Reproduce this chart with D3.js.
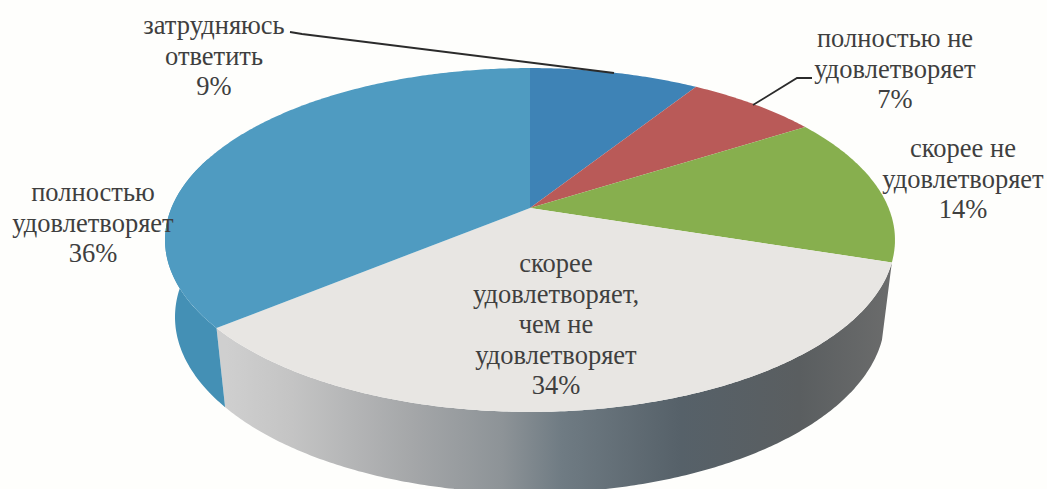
<!DOCTYPE html>
<html>
<head>
<meta charset="utf-8">
<script src="https://cdn.jsdelivr.net/npm/d3@7"></script>
<style>
html, body { margin: 0; padding: 0; background: #fefefc; overflow: hidden; }
text { font-family: "Liberation Serif", serif; font-size: 26.5px; fill: #3f3f3f; text-anchor: middle; }
</style>
</head>
<body>
<div id="chart"></div>
<script>
const categories = ['затрудняюсь ответить', 'полностью не удовлетворяет', 'скорее не удовлетворяет', 'скорее удовлетворяет, чем не удовлетворяет', 'полностью удовлетворяет'];
const values = [9, 7, 14, 34, 36];
const labelLines = [
    ['затрудняюсь', 'ответить'],
    ['полностью не', 'удовлетворяет'],
    ['скорее не', 'удовлетворяет'],
    ['скорее', 'удовлетворяет,', 'чем не', 'удовлетворяет'],
    ['полностью', 'удовлетворяет']
];
const topColors = ['#3e83b6', '#b95a58', '#87af4e', '#e8e6e3', '#4f9bc1'];
const labelX = [214, 895, 963, 556, 93];
const labelY = [34, 47, 157, 272, 201];
const lineGap = 30.5;

const width = 1047, height = 489;

// perspective of the tilted disc, fitted to the picture
const persp = 0.186;
const topRim = {cx: 530, cy: 208, bx: 358.6, by: 166};
const baseRim = {cx: 530, cy: 284.3, bx: 348.8, by: 169.9};

function project(rim, angle, r) {
    const u = r * Math.sin(angle), v = -r * Math.cos(angle);
    const d = 1 - persp * v;
    return [rim.cx + rim.bx * u / d, rim.cy + rim.by * v / d];
}

function rimPoints(rim, a0, a1) {
    const n = Math.max(2, Math.ceil((a1 - a0) / 0.01));
    return d3.range(n + 1).map(i => project(rim, a0 + (a1 - a0) * i / n, 1));
}

const svg = d3.select('#chart').append('svg')
    .attr('width', width)
    .attr('height', height);

const defs = svg.append('defs');
const sideGrad = defs.append('linearGradient')
    .attr('id', 'side-grad')
    .attr('gradientUnits', 'userSpaceOnUse')
    .attr('x1', 226).attr('x2', 885).attr('y1', 0).attr('y2', 0);
[[0, '#cfcfcf'], [0.1, '#c4c4c4'], [0.28, '#a5a7a9'], [0.42, '#8d9397'], [0.51, '#6f7b83'], [0.69, '#566169'], [0.87, '#5a5e60'], [1, '#6a6b6b']]
    .forEach(s => sideGrad.append('stop').attr('offset', s[0]).attr('stop-color', s[1]));

const arcs = d3.pie().sort(null).value(d => d)(values);
const line = d3.line();

// side wall first, only the two slices that face the viewer
const wallColors = [null, null, null, 'url(#side-grad)', '#4490b5'];
arcs.forEach((a, i) => {
    if (!wallColors[i]) return;
    const end = Math.min(a.endAngle, Math.PI * 1.6);
    const start = a.startAngle;
    const outline = rimPoints(topRim, start, end).concat(rimPoints(baseRim, start, end).reverse());
    svg.append('path')
        .attr('d', line(outline) + 'Z')
        .attr('fill', wallColors[i]);
});

// top face
arcs.forEach((a, i) => {
    const outline = [project(topRim, 0, 0)].concat(rimPoints(topRim, a.startAngle, a.endAngle));
    svg.append('path')
        .attr('d', line(outline) + 'Z')
        .attr('fill', topColors[i]);
});

// leader lines
const leaders = [
    [[290, 32], [302, 34], [614, 73]],
    [[812, 78], [797, 78], [753, 105]]
];
leaders.forEach(l => {
    svg.append('path')
        .attr('d', line(l))
        .attr('fill', 'none')
        .attr('stroke', '#2b2b2b')
        .attr('stroke-width', 1.8);
});

// labels
labelLines.forEach((lines, i) => {
    const t = svg.append('text').attr('x', labelX[i]).attr('y', labelY[i]);
    lines.concat(values[i] + '%').forEach((s, j) => {
        t.append('tspan')
            .attr('x', labelX[i])
            .attr('y', labelY[i] + j * lineGap)
            .text(s);
    });
});
</script>
</body>
</html>
